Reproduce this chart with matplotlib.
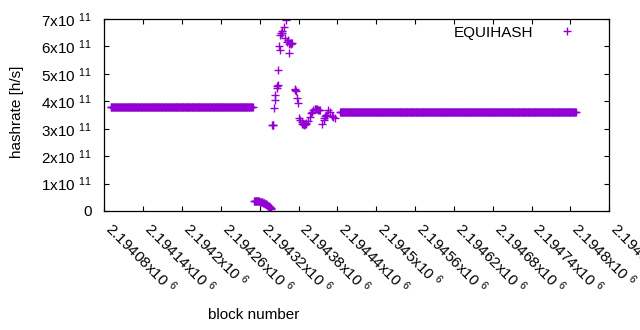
import numpy as np
import matplotlib
matplotlib.use("Agg")
import matplotlib.pyplot as plt

plt.rcParams['font.family'] = ['Liberation Sans', 'DejaVu Sans']
plt.rcParams['mathtext.fontset'] = 'custom'
plt.rcParams['mathtext.rm'] = 'Liberation Sans'
plt.rcParams['mathtext.it'] = 'Liberation Sans'
plt.rcParams['mathtext.bf'] = 'Liberation Sans'

# ---- data ----
base_block = 2194080
flat1_first, flat1_last, flat1_value = 2194090, 2194309, 3.79e11
arc_offsets = list(range(231, 259))
arc_values = [0.38, 0.38, 0.37, 0.37, 0.37, 0.36, 0.36, 0.35, 0.35, 0.34,
              0.33, 0.33, 0.32, 0.31, 0.30, 0.29, 0.28, 0.27, 0.26, 0.24,
              0.23, 0.21, 0.19, 0.17, 0.15, 0.13, 0.10, 0.07]
spike_offsets = [259, 260, 261, 262, 263, 264, 266, 267, 268, 269, 270, 271,
                 272, 273, 274, 275, 277, 279, 280, 282, 284, 285, 286, 287,
                 288, 289, 290, 294, 295, 296, 297, 299, 301, 303, 305, 306,
                 307, 308, 309, 310, 311, 312, 314, 318, 320, 321, 323, 325,
                 326, 327, 329, 330, 331, 333, 337, 339, 340, 341, 343, 344,
                 346, 348, 351, 354, 356]
spike_values = [3.12, 3.15, 3.14, 3.74, 4.05, 4.23, 4.47, 4.55, 4.60, 5.14,
                6.02, 5.87, 6.42, 6.50, 6.48, 6.55, 6.72, 6.30, 6.96, 6.17,
                6.22, 6.10, 5.77, 6.12, 6.10, 6.11, 6.13, 4.41, 4.44, 4.38,
                4.13, 3.93, 3.40, 3.32, 3.24, 3.18, 3.16, 3.15, 3.16, 3.17,
                3.18, 3.20, 3.28, 3.44, 3.56, 3.62, 3.68, 3.71, 3.72, 3.72,
                3.73, 3.70, 3.68, 3.69, 3.16, 3.30, 3.38, 3.48, 3.50, 3.50,
                3.68, 3.62, 3.47, 3.44, 3.38]
flat2_first, flat2_last, flat2_value = 2194444, 2194808, 3.60e11

xticks = [2194080, 2194140, 2194200, 2194260, 2194320, 2194380, 2194440,
          2194500, 2194560, 2194620, 2194680, 2194740, 2194800, 2194860]
xtick_labels = ["2.19408", "2.19414", "2.1942", "2.19426", "2.19432", "2.19438",
                "2.19444", "2.1945", "2.19456", "2.19462", "2.19468", "2.19474",
                "2.1948", "2.19486"]
yticks = [0, 1e11, 2e11, 3e11, 4e11, 5e11, 6e11, 7e11]
ytick_labels = ["0", "1", "2", "3", "4", "5", "6", "7"]
series_label = "EQUIHASH"

# ---- assemble ----
blocks = np.concatenate([
    np.arange(flat1_first, flat1_last + 1),
    base_block + np.array(arc_offsets),
    base_block + np.array(spike_offsets),
    np.arange(flat2_first, flat2_last + 1),
])
values = np.concatenate([
    np.full(flat1_last - flat1_first + 1, flat1_value),
    np.array(arc_values) * 1e11,
    np.array(spike_values) * 1e11,
    np.full(flat2_last - flat2_first + 1, flat2_value),
])

W, H = 640, 330
fig = plt.figure(figsize=(W / 100, H / 100), dpi=100)
L, R, T, B = 104.3, 609.3, 19, 211
ax = fig.add_axes([L / W, 1 - B / H, (R - L) / W, (B - T) / H])

color = '#9400D3'
ax.plot(blocks, values, '+', color=color, ms=5.3, mew=1.0, label=series_label)

ax.set_xlim(xticks[0], xticks[-1])
ax.set_ylim(0, 7e11)

fs = 11
ax.set_yticks(yticks)
ax.set_yticklabels([lab if lab == "0" else lab + r"x10 $^{11}$" for lab in ytick_labels],
                   fontsize=fs)
ax.set_xticks(xticks)
ax.set_xticklabels([lab + r"x10 $^{6}$" for lab in xtick_labels], fontsize=fs)
for t in ax.get_xticklabels():
    t.set_rotation(-45)
    t.set_ha('left')
    t.set_va('baseline')
    t.set_rotation_mode('anchor')

ax.tick_params(direction='in', length=3.3, width=0.8, top=True, right=True,
               color='black')
ax.tick_params(axis='y', pad=9)
ax.tick_params(axis='x', pad=13.3)
for s in ax.spines.values():
    s.set_linewidth(0.9)

fig.text(17 / W, 1 - 112 / H, "hashrate [h/s]", rotation=90, ha='center',
         va='center', fontsize=fs)
fig.text(254 / W, 1 - 315 / H, "block number", ha='center', va='center', fontsize=fs)

ax.legend(loc='upper right', markerfirst=False, frameon=False, fontsize=fs,
          handlelength=2.0, handletextpad=1.2, borderpad=0, borderaxespad=0,
          bbox_to_anchor=((582 - L) / (R - L), (B - 25.5) / (B - T)))

fig.savefig("out.png", dpi=100)
